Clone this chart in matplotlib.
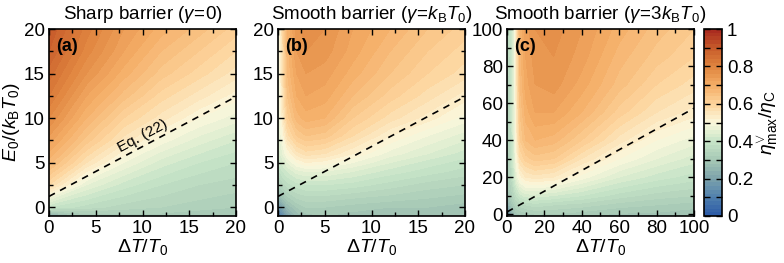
import numpy as np
import matplotlib
matplotlib.use('Agg')
import matplotlib.pyplot as plt
from matplotlib.colors import LinearSegmentedColormap
from matplotlib.ticker import MultipleLocator

plt.rcParams['font.family'] = ['Liberation Sans', 'DejaVu Sans']
plt.rcParams['mathtext.fontset'] = 'custom'
plt.rcParams['mathtext.rm'] = 'Liberation Sans'
plt.rcParams['mathtext.it'] = 'Liberation Sans:italic'
plt.rcParams['mathtext.bf'] = 'Liberation Sans:bold'
plt.rcParams['font.size'] = 10.5

# ---- data: eta_max / eta_C on coarse grids ----
# (a) sharp barrier, gamma = 0
dT_a = [0, 4, 8, 12, 16, 20]
E_a = [-1, 0, 2.5, 5, 7.5, 10, 12.5, 15, 17.5, 20]
eta_a = [
    [0.22, 0.30, 0.31, 0.31, 0.30, 0.30],
    [0.40, 0.37, 0.35, 0.34, 0.33, 0.32],
    [0.58, 0.46, 0.41, 0.38, 0.36, 0.35],
    [0.67, 0.56, 0.48, 0.43, 0.40, 0.38],
    [0.73, 0.63, 0.55, 0.49, 0.45, 0.42],
    [0.78, 0.68, 0.60, 0.55, 0.50, 0.47],
    [0.82, 0.72, 0.65, 0.59, 0.55, 0.51],
    [0.85, 0.76, 0.69, 0.63, 0.59, 0.55],
    [0.88, 0.79, 0.72, 0.66, 0.62, 0.58],
    [0.90, 0.81, 0.74, 0.69, 0.65, 0.61],
]

# (b) smooth barrier, gamma = kB T0
dT_b = [0, 0.5, 1, 2, 3, 5, 8, 12, 16, 20]
E_b = [-1, 0, 1, 2.5, 4, 5, 6, 8, 10, 12.5, 15, 17.5, 20]
eta_b = [
    [0.08, 0.14, 0.20, 0.26, 0.29, 0.30, 0.29, 0.28, 0.28, 0.28],
    [0.16, 0.21, 0.26, 0.30, 0.32, 0.32, 0.31, 0.30, 0.30, 0.29],
    [0.24, 0.28, 0.31, 0.34, 0.35, 0.35, 0.34, 0.33, 0.32, 0.31],
    [0.32, 0.35, 0.37, 0.39, 0.40, 0.40, 0.39, 0.37, 0.35, 0.34],
    [0.37, 0.40, 0.42, 0.45, 0.46, 0.46, 0.44, 0.41, 0.39, 0.37],
    [0.40, 0.43, 0.46, 0.50, 0.52, 0.51, 0.48, 0.44, 0.41, 0.39],
    [0.42, 0.46, 0.50, 0.55, 0.57, 0.56, 0.52, 0.47, 0.44, 0.41],
    [0.44, 0.50, 0.57, 0.62, 0.64, 0.63, 0.58, 0.52, 0.48, 0.45],
    [0.45, 0.53, 0.61, 0.67, 0.69, 0.68, 0.62, 0.57, 0.53, 0.49],
    [0.45, 0.55, 0.64, 0.70, 0.72, 0.71, 0.66, 0.61, 0.57, 0.53],
    [0.46, 0.56, 0.66, 0.72, 0.74, 0.73, 0.69, 0.64, 0.60, 0.57],
    [0.46, 0.57, 0.67, 0.74, 0.76, 0.75, 0.71, 0.66, 0.62, 0.59],
    [0.46, 0.58, 0.68, 0.75, 0.77, 0.76, 0.72, 0.68, 0.64, 0.61],
]

# (c) smooth barrier, gamma = 3 kB T0
dT_c = [0, 2, 4, 5, 7, 10, 15, 25, 40, 60, 80, 100]
E_c = [-1, 5, 10, 20, 30, 40, 55, 70, 85, 100]
eta_c = [
    [0.08, 0.20, 0.26, 0.28, 0.29, 0.30, 0.31, 0.31, 0.30, 0.29, 0.29, 0.28],
    [0.20, 0.28, 0.32, 0.34, 0.35, 0.36, 0.37, 0.36, 0.35, 0.33, 0.32, 0.31],
    [0.26, 0.32, 0.36, 0.38, 0.41, 0.43, 0.43, 0.42, 0.40, 0.37, 0.35, 0.34],
    [0.30, 0.35, 0.42, 0.46, 0.51, 0.54, 0.55, 0.54, 0.49, 0.44, 0.41, 0.39],
    [0.31, 0.36, 0.44, 0.50, 0.58, 0.61, 0.63, 0.62, 0.56, 0.50, 0.46, 0.43],
    [0.32, 0.37, 0.45, 0.52, 0.62, 0.66, 0.68, 0.67, 0.62, 0.55, 0.50, 0.47],
    [0.33, 0.38, 0.46, 0.53, 0.64, 0.69, 0.72, 0.72, 0.68, 0.61, 0.56, 0.53],
    [0.33, 0.38, 0.46, 0.54, 0.66, 0.71, 0.74, 0.75, 0.71, 0.65, 0.60, 0.57],
    [0.34, 0.39, 0.47, 0.54, 0.67, 0.72, 0.75, 0.76, 0.73, 0.67, 0.63, 0.60],
    [0.34, 0.39, 0.47, 0.55, 0.68, 0.73, 0.76, 0.77, 0.74, 0.69, 0.65, 0.62],
]

# Eq. (22) dashed line end points
eq22_dT_short = [0, 20]
eq22_E_short = [1.2, 12.4]
eq22_dT_long = [0, 100]
eq22_E_long = [1.2, 57.2]

titles = [r'Sharp barrier ($\gamma\!=\!0$)',
          r'Smooth barrier ($\gamma\!=\!k_{\rm B}T_0$)',
          r'Smooth barrier ($\gamma\!=\!3k_{\rm B}T_0$)']
panel_labels = ['(a)', '(b)', '(c)']

cmap = LinearSegmentedColormap.from_list('eta', [
    '#2b5aa6', '#4f7fae', '#7ea3ab', '#a6c8b5', '#c8e5c8', '#fbf8dc',
    '#fdd49c', '#f4ad66', '#e0853f', '#c65a2a', '#a8281f'])
levels = np.linspace(0, 1, 51)

fig = plt.figure(figsize=(7.84, 2.63), dpi=100)
lefts = [49 / 784, 278 / 784, 507 / 784]
bottom, w, h = 1 - 216 / 263, 187 / 784, 187 / 263

panels = [(dT_a, E_a, eta_a, eq22_dT_short, eq22_E_short, 20),
          (dT_b, E_b, eta_b, eq22_dT_short, eq22_E_short, 20),
          (dT_c, E_c, eta_c, eq22_dT_long, eq22_E_long, 100)]

for i, (x, y, z, lx, ly, lim) in enumerate(panels):
    ax = fig.add_axes([lefts[i], bottom, w, h])
    cs = ax.contourf(x, y, np.array(z), levels=levels, cmap=cmap,
                     vmin=0, vmax=1)
    ax.plot(lx, ly, 'k--', lw=1.2, dashes=(4, 3.5))
    ax.set_xlim(0, lim)
    ax.set_ylim(-1, lim)
    step = 5 if lim == 20 else 20
    ax.xaxis.set_major_locator(MultipleLocator(step))
    ax.yaxis.set_major_locator(MultipleLocator(step))
    ax.xaxis.set_minor_locator(MultipleLocator(step / 2))
    ax.yaxis.set_minor_locator(MultipleLocator(step / 2))
    ax.tick_params(which='both', direction='in', top=True, right=True,
                   width=1)
    ax.tick_params(which='major', length=4, labelsize=13.5, pad=3)
    ax.tick_params(which='minor', length=3)
    for sp in ax.spines.values():
        sp.set_linewidth(1.2)
    ax.set_xlabel(r'$\Delta T/T_0$', fontsize=14, labelpad=0)
    ax.set_title(titles[i], fontsize=13.5, pad=7)
    ax.text(0.04, 0.95, panel_labels[i], transform=ax.transAxes,
            fontsize=13, fontweight='bold', va='top', ha='left')
    if i == 0:
        ax.set_ylabel(r'$E_0/(k_{\rm B}T_0)$', fontsize=14, labelpad=1)
        ax.text(10, 8.0, 'Eq. (22)', rotation=28, fontsize=11,
                ha='center', va='center')

cax = fig.add_axes([704 / 784, bottom, 18 / 784, h])
cb = fig.colorbar(cs, cax=cax)
cb.set_ticks([0, 0.2, 0.4, 0.6, 0.8, 1])
cb.set_ticklabels(['0', '0.2', '0.4', '0.6', '0.8', '1'])
cb.ax.yaxis.set_minor_locator(MultipleLocator(0.1))
cb.ax.tick_params(which='both', direction='in', left=True, right=True,
                  length=4, width=1)
cb.ax.tick_params(which='major', labelsize=13.5)
cb.outline.set_linewidth(1.2)
cb.set_label(r'$\eta^{\vee}_{\max}/\eta_{\rm C}$', fontsize=14, labelpad=2)

fig.savefig('out.png', dpi=100)
